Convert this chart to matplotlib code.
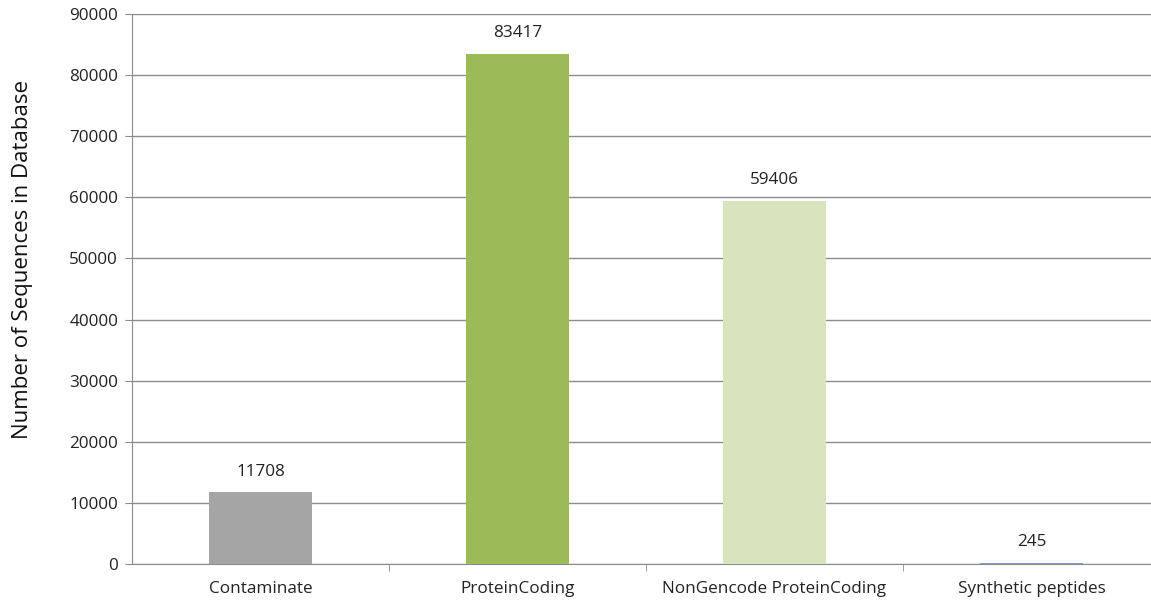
import matplotlib.pyplot as plt
from matplotlib.ticker import FixedLocator, NullFormatter

categories = ["Contaminate", "ProteinCoding", "NonGencode ProteinCoding", "Synthetic peptides"]
counts = [11708, 83417, 59406, 245]
bar_colors = ["#A5A5A5", "#9BBB59", "#D7E4BD", "#7F9FC6"]
yticks = list(range(0, 90001, 10000))

plt.rcParams["font.family"] = ["Open Sans", "DejaVu Sans"]

fig = plt.figure(figsize=(11.51, 6.05), dpi=100)
ax = fig.add_axes([132 / 1151, 1 - 564 / 605, (1160 - 132) / 1151, 550 / 605])

x = range(len(categories))
ax.bar(x, counts, width=0.4, color=bar_colors, zorder=3)
for i, v in enumerate(counts):
    ax.text(i, v + 2100, str(v), ha="center", va="bottom", fontsize=12.3, color="#222222")

ax.set_xlim(-0.5, len(categories) - 0.5)
ax.set_ylim(0, 90000)
ax.set_yticks(yticks)
ax.set_yticklabels([str(t) for t in yticks], fontsize=12.3, color="#222222")
ax.yaxis.grid(True, color="#8C8C8C", linewidth=1, zorder=0)

ax.set_xticks(list(x))
ax.set_xticklabels(categories, fontsize=12.3, color="#222222")
ax.tick_params(axis="x", which="major", length=0, pad=12)
ax.xaxis.set_minor_locator(FixedLocator([0.5, 1.5, 2.5]))
ax.xaxis.set_minor_formatter(NullFormatter())
ax.tick_params(axis="x", which="minor", length=5, color="#8C8C8C", direction="out")
ax.tick_params(axis="y", length=5, color="#8C8C8C", pad=5)

for s in ["top", "right"]:
    ax.spines[s].set_visible(False)
ax.spines["left"].set_color("#8C8C8C")
ax.spines["bottom"].set_color("#8C8C8C")

ax.set_ylabel("Number of Sequences in Database", fontsize=16, color="#111111")
ax.yaxis.set_label_coords(-99 / 1028, 0.553)

fig.savefig("out.png", dpi=100)
